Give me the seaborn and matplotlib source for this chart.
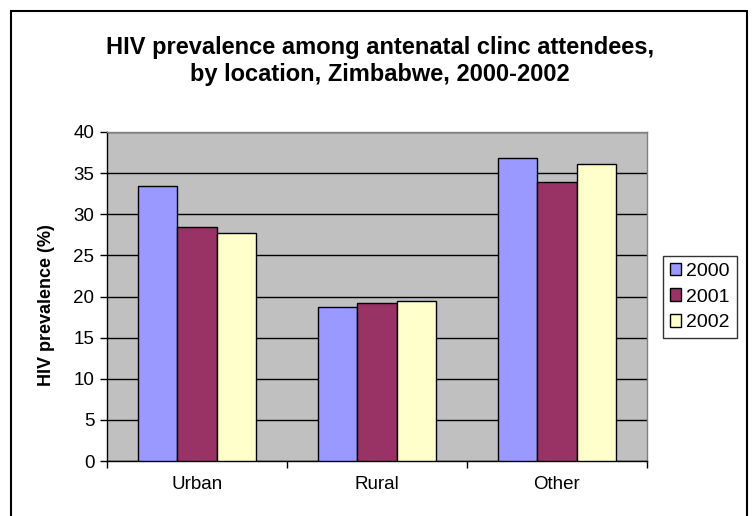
import pandas as pd
import matplotlib.pyplot as plt
import seaborn as sns
from matplotlib.patches import Rectangle

locations = ["Urban", "Rural", "Other"]
years = ["2000", "2001", "2002"]
prev_2000 = [33.4, 18.7, 36.8]
prev_2001 = [28.5, 19.2, 33.9]
prev_2002 = [27.7, 19.5, 36.1]

df = pd.DataFrame({
    "location": locations * 3,
    "year": [y for y in years for _ in locations],
    "prevalence": prev_2000 + prev_2001 + prev_2002,
})

sns.set_style("white")
plt.rcParams["font.family"] = ["Liberation Sans", "DejaVu Sans"]
plt.rcParams["text.color"] = "black"
plt.rcParams["axes.labelcolor"] = "black"
plt.rcParams["xtick.color"] = "black"
plt.rcParams["ytick.color"] = "black"

fig = plt.figure(figsize=(7.55, 5.16), dpi=100)
ax = fig.add_axes([107 / 755, 1 - 461 / 516, 540 / 755, 329 / 516])

# outer chart border (open at the bottom, as in the cropped original)
fig.patches.append(Rectangle((11 / 755, -0.1), 736 / 755, 1.1 - 11 / 516,
                             transform=fig.transFigure, fill=False,
                             edgecolor="black", linewidth=1.5))

palette = {"2000": "#9999FF", "2001": "#993366", "2002": "#FFFFCC"}
sns.barplot(data=df, x="location", y="prevalence", hue="year",
            palette=palette, width=0.66, edgecolor="black", linewidth=1,
            saturation=1, ax=ax, zorder=3)

ax.set_facecolor("#C0C0C0")
ax.set_ylim(0, 40)
ax.set_xlim(-0.5, 2.5)
ax.set_yticks(range(0, 41, 5))
ax.yaxis.grid(True, color="black", linewidth=1, zorder=1)
ax.set_axisbelow(True)
ax.tick_params(axis="y", direction="out", length=5, width=1, labelsize=13.5,
               left=True, pad=4)
ax.tick_params(axis="x", which="major", length=0, labelsize=13.5, pad=11)
ax.set_xticks([-0.5, 0.5, 1.5, 2.5], minor=True)
ax.tick_params(axis="x", which="minor", direction="out", length=5, width=1,
               bottom=True)
for side in ["left", "bottom"]:
    ax.spines[side].set_color("black")
    ax.spines[side].set_linewidth(1)
for side in ["top", "right"]:
    ax.spines[side].set_color("#808080")
    ax.spines[side].set_linewidth(1)

ax.set_xlabel("")
ax.set_ylabel("HIV prevalence (%)", fontsize=13, fontweight="bold")
ax.yaxis.set_label_coords(-0.097, 0.474)

fig.text(0.5 * (107 + 647) / 755 + 0.004, 1 - 61 / 516,
         "HIV prevalence among antenatal clinc attendees,\nby location, Zimbabwe, 2000-2002",
         ha="center", va="center", fontsize=17, fontweight="bold",
         linespacing=1.22)

handles, labels = ax.get_legend_handles_labels()
ax.legend(handles, labels, loc="center left",
          bbox_to_anchor=(663 / 755, 1 - 297 / 516),
          bbox_transform=fig.transFigure, frameon=True, fancybox=False,
          edgecolor="black", fontsize=14, handlelength=0.6, handleheight=0.6,
          handletextpad=0.25, borderpad=0.35, labelspacing=0.45,
          borderaxespad=0)
ax.get_legend().get_frame().set_linewidth(1)

plt.savefig("out.png", dpi=100)
